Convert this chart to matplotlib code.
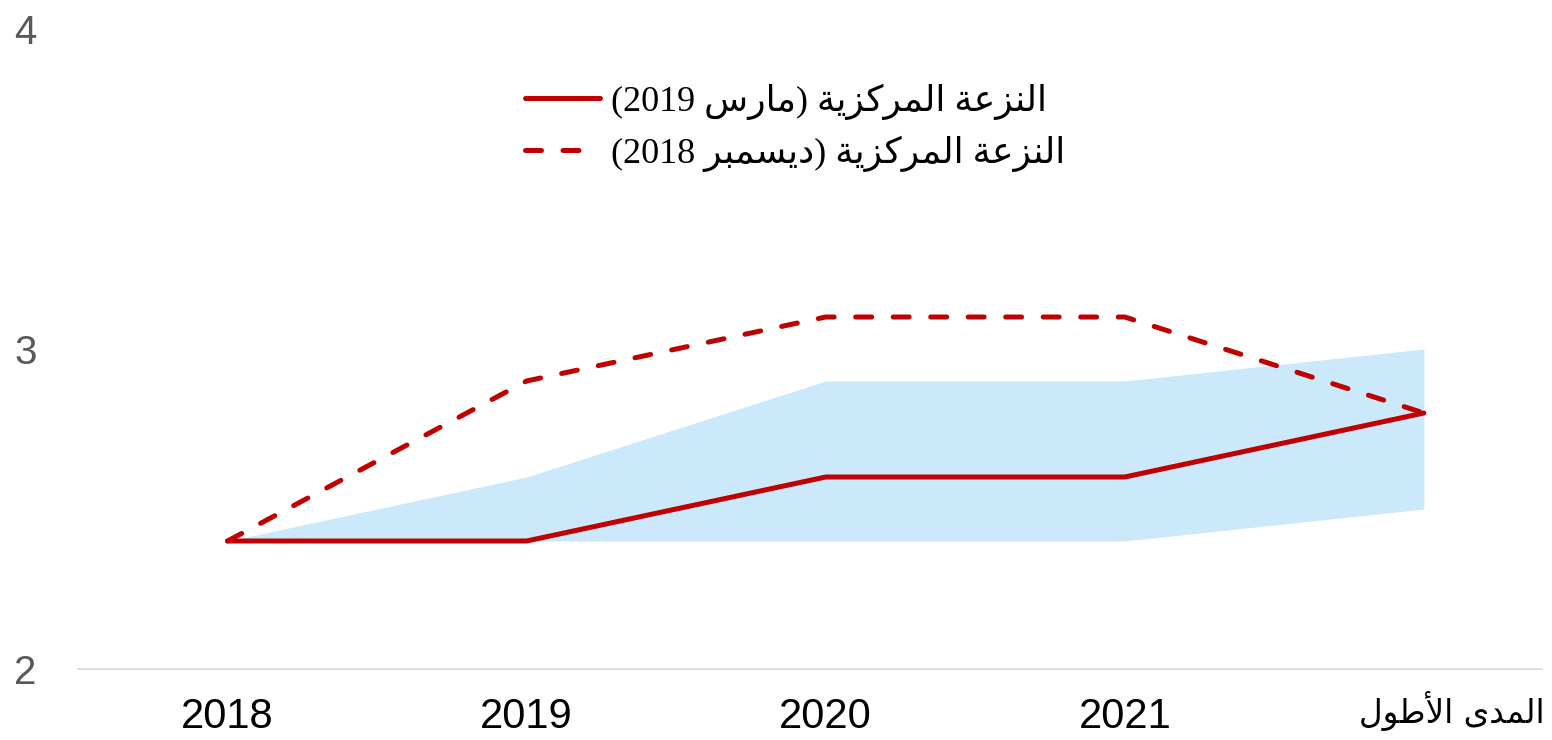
import re
import matplotlib
matplotlib.use("Agg")
import matplotlib.pyplot as plt
from matplotlib.transforms import ScaledTranslation

# ---------------- data ----------------
categories = ["2018", "2019", "2020", "2021", "المدى الأطول"]
central_mar2019 = [2.4, 2.4, 2.6, 2.6, 2.8]
central_dec2018 = [2.4, 2.9, 3.1, 3.1, 2.8]
range_low = [2.4, 2.4, 2.4, 2.4, 2.5]
range_high = [2.4, 2.6, 2.9, 2.9, 3.0]
series_labels = ["النزعة المركزية (مارس 2019)", "النزعة المركزية (ديسمبر 2018)"]
y_ticks = [2, 3, 4]

# ---------------- minimal Arabic shaping + bidi ----------------
FORMS = {  # isolated, final, initial, medial
    'ا': ('\uFE8D', '\uFE8E', None, None),
    'أ': ('\uFE83', '\uFE84', None, None),
    'ل': ('\uFEDD', '\uFEDE', '\uFEDF', '\uFEE0'),
    'ن': ('\uFEE5', '\uFEE6', '\uFEE7', '\uFEE8'),
    'ز': ('\uFEAF', '\uFEB0', None, None),
    'ع': ('\uFEC9', '\uFECA', '\uFECB', '\uFECC'),
    'ة': ('\uFE93', '\uFE94', None, None),
    'م': ('\uFEE1', '\uFEE2', '\uFEE3', '\uFEE4'),
    'ر': ('\uFEAD', '\uFEAE', None, None),
    'ك': ('\uFED9', '\uFEDA', '\uFEDB', '\uFEDC'),
    'ي': ('\uFEF1', '\uFEF2', '\uFEF3', '\uFEF4'),
    'س': ('\uFEB1', '\uFEB2', '\uFEB3', '\uFEB4'),
    'د': ('\uFEA9', '\uFEAA', None, None),
    'ب': ('\uFE8F', '\uFE90', '\uFE91', '\uFE92'),
    'ى': ('\uFEEF', '\uFEF0', None, None),
    'ط': ('\uFEC1', '\uFEC2', '\uFEC3', '\uFEC4'),
    'و': ('\uFEED', '\uFEEE', None, None),
}
LAM_ALEF = {'ا': ('\uFEFB', '\uFEFC'), 'أ': ('\uFEF7', '\uFEF8')}


def _dual(c):
    return c in FORMS and FORMS[c][2] is not None


def shape(s):
    out = []
    i = 0
    n = len(s)
    while i < n:
        c = s[i]
        if c not in FORMS:
            out.append(c)
            i += 1
            continue
        prev = s[i - 1] if i > 0 else ''
        jp = _dual(prev)
        if c == 'ل' and i + 1 < n and s[i + 1] in LAM_ALEF:
            out.append(LAM_ALEF[s[i + 1]][1 if jp else 0])
            i += 2
            continue
        nxt = s[i + 1] if i + 1 < n else ''
        jn = _dual(c) and nxt in FORMS
        iso, fin, ini, med = FORMS[c]
        if jp and jn:
            out.append(med)
        elif jp:
            out.append(fin)
        elif jn:
            out.append(ini)
        else:
            out.append(iso)
        i += 1
    return ''.join(out)


def rtl(s):
    v = shape(s)[::-1]
    v = re.sub(r'\d+', lambda m: m.group(0)[::-1], v)
    return v.translate(str.maketrans('()', ')('))


# ---------------- figure ----------------
RED = "#c00000"
BAND = "#cce9fb"

fig = plt.figure(figsize=(15.52, 7.40), dpi=100)
ax = fig.add_axes([78 / 1552, 71 / 740, (1542 - 78) / 1552, (711 - 71) / 740])

x = list(range(len(categories)))
ax.fill_between(x, range_low, range_high, color=BAND, linewidth=0, zorder=1)
ax.plot(x, central_mar2019, color=RED, lw=3.6, solid_joinstyle='round',
        solid_capstyle='round', label=rtl(series_labels[0]), zorder=3)
ax.plot(x, central_dec2018, color=RED, lw=3.6, dashes=(3.2, 4.3),
        dash_capstyle='round', label=rtl(series_labels[1]), zorder=3)

ax.set_xlim(-0.5, 4.395)
ax.set_ylim(2, 4)
ax.set_yticks(y_ticks)
ax.set_yticklabels([str(t) for t in y_ticks])
ax.set_xticks(x)
ax.set_xticklabels([rtl(c) for c in categories])

for s in ["top", "right", "left"]:
    ax.spines[s].set_visible(False)
ax.spines["bottom"].set_color("#d9d9d9")
ax.spines["bottom"].set_linewidth(1.2)

ax.tick_params(axis='y', length=0, pad=38, labelsize=29, labelcolor="#595959")
ax.tick_params(axis='x', length=0, pad=20, labelsize=30, labelcolor="black")
for lab in ax.get_yticklabels():
    lab.set_fontfamily(["Liberation Sans", "DejaVu Sans"])
    lab.set_horizontalalignment('center')
xl = ax.get_xticklabels()
for lab in xl[:-1]:
    lab.set_fontfamily(["Liberation Sans", "DejaVu Sans"])
last = xl[-1]
last.set_fontfamily(["DejaVu Sans"])
last.set_fontsize(23.5)
last.set_transform(last.get_transform() + ScaledTranslation(0.28, 0.06, fig.dpi_scale_trans))

leg = ax.legend(loc='upper center', bbox_to_anchor=(795 / 1552, 1 - 58 / 740),
                bbox_transform=fig.transFigure, frameon=False, handlelength=2.1,
                handletextpad=0.3, labelspacing=0.45, borderpad=0.2,
                prop={'family': ["Liberation Serif", "DejaVu Sans"], 'size': 26})

fig.savefig("out.png", dpi=100)
